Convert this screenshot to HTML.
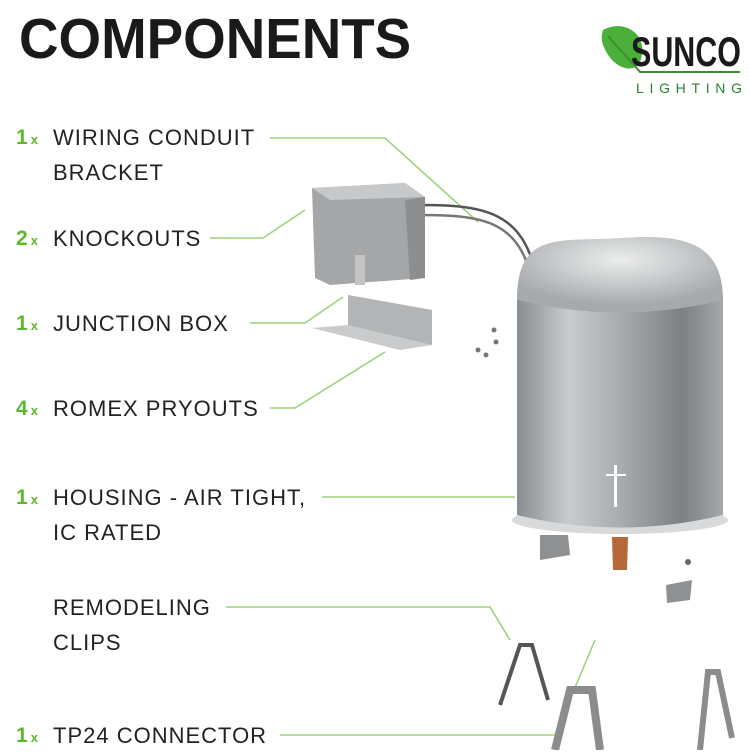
<!DOCTYPE html>
<html><head><style>
body{margin:0;width:750px;height:750px;background:#fff;overflow:hidden;position:relative;font-family:"Liberation Sans",sans-serif}
.t{position:absolute;left:19px;top:6px;font-size:57px;font-weight:bold;color:#1a1a1a;transform:scaleX(0.96);transform-origin:left}
.l{position:absolute;left:53px;font-size:22px;color:#222;letter-spacing:1px;line-height:35px}
.n{position:absolute;left:16px;font-size:21px;font-weight:bold;color:#5cb82e;line-height:35px}
.n i{font-style:normal;font-size:13px;margin-left:3px}
</style></head><body>
<div class="t">COMPONENTS</div>
<svg width="750" height="750" style="position:absolute;left:0;top:0">
<defs>
<linearGradient id="cyl" x1="0" x2="1">
<stop offset="0" stop-color="#8a8d90"/><stop offset="0.25" stop-color="#c9cbcd"/><stop offset="0.5" stop-color="#a9acaf"/><stop offset="0.8" stop-color="#7d8083"/><stop offset="1" stop-color="#a5a8aa"/></linearGradient>
<radialGradient id="dome" cx="0.5" cy="0.3" r="0.6"><stop offset="0" stop-color="#eceded"/><stop offset="1" stop-color="#a7aaad"/></radialGradient>
</defs>
<g stroke="#9fd27a" stroke-width="1.6" fill="none">
<polyline points="270,138 385,138 478,222"/>
<polyline points="210,238 263,238 305,210"/>
<polyline points="250,323 305,323 343,297"/>
<polyline points="270,408 295,408 385,352"/>
<polyline points="322,497 515,497"/>
<polyline points="226,607 490,607 510,640"/>
<polyline points="280,735 555,735 595,640"/>
</g>
<path d="M603,30 C625,18 650,35 640,62 C634,72 622,70 612,60 C602,48 600,38 603,30Z" fill="#4caf3a"/>
<path d="M608,36 C620,50 630,60 640,72 L740,72" stroke="#3d8f2e" stroke-width="2" fill="none"/>
<text x="631" y="66" font-family="Liberation Sans Narrow, Liberation Sans, sans-serif" font-size="42" font-weight="bold" fill="#1a1a1a" textLength="110" lengthAdjust="spacingAndGlyphs">SUNCO</text>
<text x="636" y="93" font-size="14" fill="#2e7d32" textLength="106" lengthAdjust="spacing">LIGHTING</text>
<path d="M420,205 C480,205 520,210 535,270" stroke="#555" stroke-width="2.5" fill="none"/>
<path d="M420,215 C480,215 515,220 530,272" stroke="#777" stroke-width="2.5" fill="none"/>
<polygon points="312,188 405,183 425,197 425,278 330,285 315,278" fill="#a4a6a8"/>
<polygon points="312,188 405,183 425,197 330,200" fill="#c6c8ca"/>
<polygon points="405,200 425,197 425,278 410,280" fill="#8c8e90"/>
<rect x="355" y="255" width="10" height="30" fill="#c4c4c4"/>
<polygon points="348,295 432,310 432,345 400,350 312,328 348,325" fill="#c9cbcc"/>
<polygon points="348,295 432,310 432,345 348,325" fill="#b2b4b6"/>
<g fill="#777"><circle cx="494" cy="330" r="2.5"/><circle cx="496" cy="342" r="2.5"/><circle cx="478" cy="350" r="2.5"/><circle cx="486" cy="355" r="2.5"/></g>
<ellipse cx="620" cy="520" rx="108" ry="14" fill="#d8d9da"/>
<path d="M517,295 L517,515 Q620,540 723,515 L723,295Z" fill="url(#cyl)"/>
<path d="M517,300 C517,230 560,242 620,238 C680,234 723,240 723,300 Q620,325 517,300Z" fill="url(#dome)"/>
<rect x="614" y="465" width="3" height="42" fill="#fff"/>
<rect x="606" y="474" width="20" height="2" fill="#fff"/>
<polygon points="540,535 568,535 570,555 540,560" fill="#8e9092"/>
<polygon points="612,537 628,537 627,570 613,570" fill="#b5683a"/>
<polygon points="666,585 692,580 690,600 667,603" fill="#8e9092"/>
<circle cx="688" cy="562" r="3" fill="#666"/>
<path d="M500,705 L520,645 L532,645 L548,700" stroke="#555" stroke-width="4" fill="none"/>
<path d="M555,750 L570,690 L592,690 L600,750" stroke="#8a8c8e" stroke-width="8" fill="none"/>
<path d="M700,750 L708,672 L718,672 L732,738" stroke="#8a8c8e" stroke-width="6" fill="none"/>
</svg>
<div class="n" style="top:120px">1<i>x</i></div><div class="l" style="top:120px">WIRING CONDUIT<br>BRACKET</div>
<div class="n" style="top:221px">2<i>x</i></div><div class="l" style="top:221px">KNOCKOUTS</div>
<div class="n" style="top:306px">1<i>x</i></div><div class="l" style="top:306px">JUNCTION BOX</div>
<div class="n" style="top:391px">4<i>x</i></div><div class="l" style="top:391px">ROMEX PRYOUTS</div>
<div class="n" style="top:480px">1<i>x</i></div><div class="l" style="top:480px">HOUSING - AIR TIGHT,<br>IC RATED</div>
<div class="l" style="top:590px">REMODELING<br>CLIPS</div>
<div class="n" style="top:718px">1<i>x</i></div><div class="l" style="top:718px">TP24 CONNECTOR</div>
</body></html>
